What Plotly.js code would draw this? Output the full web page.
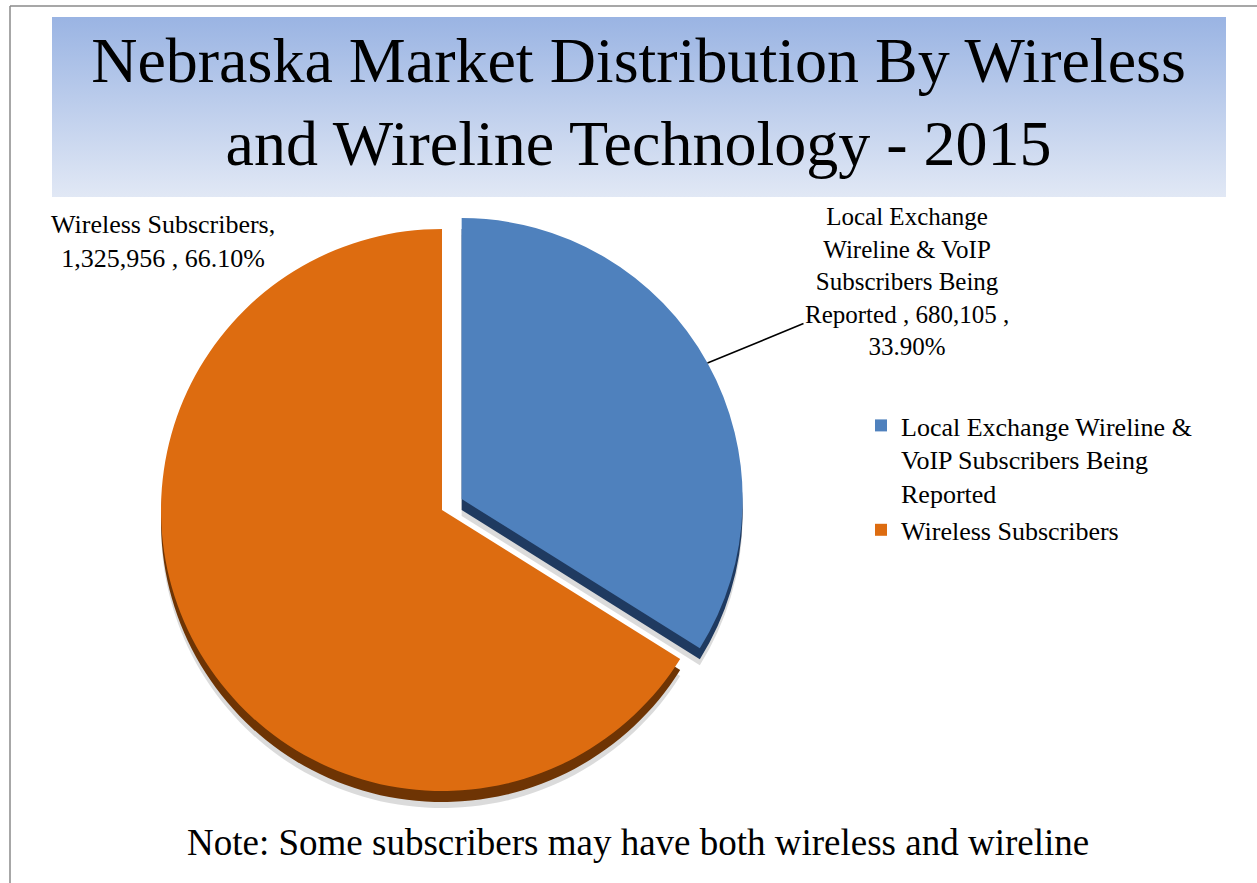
<!DOCTYPE html>
<html><head><meta charset="utf-8">
<script src="https://cdn.plot.ly/plotly-3.0.1.min.js"></script>
<style>html,body{margin:0;padding:0;background:#fff;} #chart{width:1257px;height:883px;}</style>
</head><body><div id="chart"></div>
<script>
// ---- data ----
const categories = ["Local Exchange Wireline & VoIP Subscribers Being Reported", "Wireless Subscribers"];
const legendLabels = ["Local Exchange Wireline &<br>VoIP Subscribers Being<br>Reported", "Wireless Subscribers"];
const calloutNames = ["Local Exchange<br>Wireline & VoIP<br>Subscribers Being<br>Reported ", "Wireless Subscribers"];
const values = [680105, 1325956];
const titleText = "Nebraska Market Distribution By Wireless<br>and Wireline Technology - 2015";
const noteText = "Note: Some subscribers may have both wireless and wireline";

// ---- styles ----
const sliceColors = ["#4f81bd", "#dd6c10"];
const rimColors = ["#1f3a60", "#6e3404"];
const shadowColors = ["rgba(90,90,90,0.22)", "rgba(90,90,90,0.22)"];
const FONT = "Liberation Serif, Times New Roman, serif";

const W = 1257, H = 883;
const total = values.reduce((a, b) => a + b, 0);
const pct = values.map(v => (100 * v / total).toFixed(2) + "%");
const fmt = v => v.toLocaleString('en-US');

// pie geometry (pixels)
const cx = 442, cy = 510, R = 281, pullAmt = 0.08, rimOff = 11, shadowOff = 17;
function domainFor(dy) {
  const half = R * (1 + pullAmt);
  return { x: [(cx - half) / W, (cx + half) / W], y: [1 - (cy + dy + half) / H, 1 - (cy + dy - half) / H] };
}
const pulls = [pullAmt, 0];

function pieTrace(colors, dy, show, labs) {
  return {
    type: 'pie', labels: labs, values: values, sort: false, direction: 'clockwise', rotation: 0,
    pull: pulls, domain: domainFor(dy), textinfo: 'none', showlegend: show,
    marker: { colors: colors, line: { width: 0 } },
    hoverinfo: show ? 'label+value+percent' : 'skip'
  };
}

const traces = [
  pieTrace(shadowColors, shadowOff, false, legendLabels),
  pieTrace(rimColors, rimOff, false, legendLabels),
  pieTrace(sliceColors, 0, true, legendLabels)
];

// callout for blue slice
const theta = Math.PI * values[0] / total; // mid angle from 12 o'clock, clockwise
const tipX = cx + R * (1 + pullAmt) * Math.sin(theta);
const tipY = cy - R * (1 + pullAmt) * Math.cos(theta);
const blueTextX = 907, blueTextY = 281;

const svg = "<svg xmlns='http://www.w3.org/2000/svg' width='100' height='100' preserveAspectRatio='none'>" +
  "<defs><linearGradient id='g' x1='0' y1='0' x2='0' y2='1'><stop offset='0' stop-color='#9ab4e3'/>" +
  "<stop offset='1' stop-color='#e1e8f5'/></linearGradient></defs><rect width='100' height='100' fill='url(#g)'/></svg>";

const layout = {
  width: W, height: H,
  margin: { l: 0, r: 0, t: 0, b: 0 },
  paper_bgcolor: '#ffffff',
  font: { family: FONT, color: '#000' },
  title: {
    text: titleText, font: { family: FONT, size: 64, color: '#000' },
    x: 638.5 / W, xref: 'paper', xanchor: 'center', y: 1 - 82 / H, yref: 'paper', yanchor: 'middle'
  },
  showlegend: true,
  legend: {
    x: 861 / W, y: 1 - 402 / H, xanchor: 'left', yanchor: 'top', valign: 'top',
    font: { family: FONT, size: 26, color: '#000' }, bgcolor: 'rgba(0,0,0,0)', tracegroupgap: 0
  },
  images: [{
    source: 'data:image/svg+xml;charset=utf-8,' + encodeURIComponent(svg),
    xref: 'paper', yref: 'paper', x: 52 / W, y: 1 - 17 / H, sizex: (1226 - 52) / W, sizey: 180 / H,
    xanchor: 'left', yanchor: 'top', sizing: 'stretch', layer: 'below'
  }],
  shapes: [
    { type: 'line', xref: 'paper', yref: 'paper', x0: 10 / W, x1: 1, y0: 1 - 6 / H, y1: 1 - 6 / H, line: { color: '#8a8a8a', width: 1.5 } },
    { type: 'line', xref: 'paper', yref: 'paper', x0: 10 / W, x1: 10 / W, y0: 0, y1: 1 - 6 / H, line: { color: '#8a8a8a', width: 1.5 } }
  ],
  annotations: [
    {
      text: calloutNames[0] + ", " + fmt(values[0]) + " ,<br>" + pct[0],
      xref: 'paper', yref: 'paper', x: tipX / W, y: 1 - tipY / H,
      ax: blueTextX - tipX, ay: blueTextY - tipY,
      showarrow: true, arrowhead: 0, arrowwidth: 1.6, arrowcolor: '#000', standoff: 0,
      font: { family: FONT, size: 25, color: '#000' }, align: 'center'
    },
    {
      text: calloutNames[1] + ",<br>" + fmt(values[1]) + " , " + pct[1],
      xref: 'paper', yref: 'paper', x: 163 / W, y: 1 - 241 / H, xanchor: 'center', yanchor: 'middle',
      showarrow: false, font: { family: FONT, size: 26, color: '#000' }, align: 'center'
    },
    {
      text: noteText, xref: 'paper', yref: 'paper', x: 638 / W, y: 1 - 842 / H,
      xanchor: 'center', yanchor: 'middle', showarrow: false,
      font: { family: FONT, size: 37, color: '#000' }
    }
  ]
};

Plotly.newPlot('chart', traces, layout, { displayModeBar: false });
</script>
</body></html>
